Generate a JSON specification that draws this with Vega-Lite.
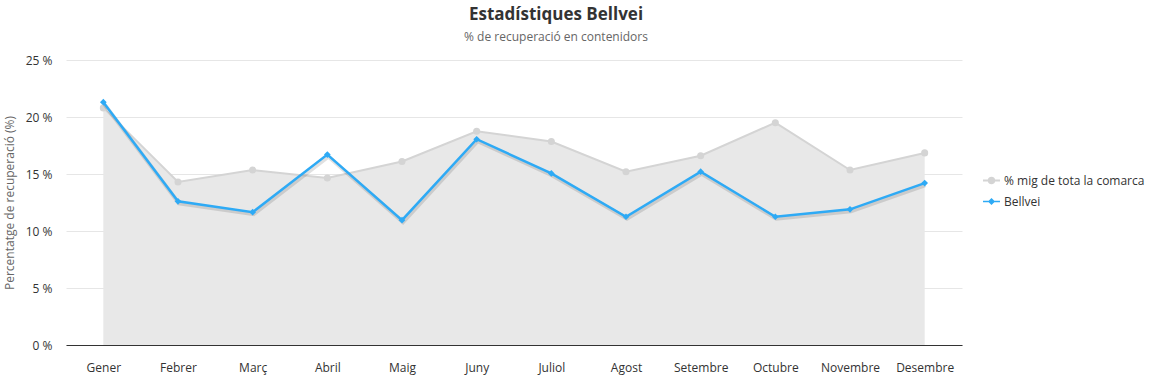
{
  "$schema": "https://vega.github.io/schema/vega-lite/v6.json",
  "width": 896,
  "height": 285,
  "autosize": {"type": "none"},
  "padding": {"left": 66, "top": 60, "right": 193, "bottom": 31},
  "background": "white",
  "config": {
    "font": "Open Sans",
    "view": {"stroke": null},
    "axis": {"labelFont": "Open Sans", "titleFont": "Open Sans"}
  },
  "title": {
    "text": "Estadístiques Bellvei",
    "subtitle": "% de recuperació en contenidors",
    "anchor": "middle",
    "frame": "group",
    "dx": 42,
    "offset": 10,
    "fontSize": 17,
    "fontWeight": "bold",
    "color": "#333333",
    "subtitleFontSize": 12,
    "subtitleColor": "#666666",
    "subtitlePadding": 8
  },
  "data": {
    "values": [
      {"mes": "Gener", "serie": "% mig de tota la comarca", "v": 20.8},
      {"mes": "Febrer", "serie": "% mig de tota la comarca", "v": 14.3},
      {"mes": "Març", "serie": "% mig de tota la comarca", "v": 15.35},
      {"mes": "Abril", "serie": "% mig de tota la comarca", "v": 14.65},
      {"mes": "Maig", "serie": "% mig de tota la comarca", "v": 16.1},
      {"mes": "Juny", "serie": "% mig de tota la comarca", "v": 18.75},
      {"mes": "Juliol", "serie": "% mig de tota la comarca", "v": 17.85},
      {"mes": "Agost", "serie": "% mig de tota la comarca", "v": 15.2},
      {"mes": "Setembre", "serie": "% mig de tota la comarca", "v": 16.6},
      {"mes": "Octubre", "serie": "% mig de tota la comarca", "v": 19.5},
      {"mes": "Novembre", "serie": "% mig de tota la comarca", "v": 15.35},
      {"mes": "Desembre", "serie": "% mig de tota la comarca", "v": 16.85},
      {"mes": "Gener", "serie": "Bellvei", "v": 21.3},
      {"mes": "Febrer", "serie": "Bellvei", "v": 12.6},
      {"mes": "Març", "serie": "Bellvei", "v": 11.65},
      {"mes": "Abril", "serie": "Bellvei", "v": 16.7},
      {"mes": "Maig", "serie": "Bellvei", "v": 10.95},
      {"mes": "Juny", "serie": "Bellvei", "v": 18.05},
      {"mes": "Juliol", "serie": "Bellvei", "v": 15.05},
      {"mes": "Agost", "serie": "Bellvei", "v": 11.25},
      {"mes": "Setembre", "serie": "Bellvei", "v": 15.2},
      {"mes": "Octubre", "serie": "Bellvei", "v": 11.25},
      {"mes": "Novembre", "serie": "Bellvei", "v": 11.9},
      {"mes": "Desembre", "serie": "Bellvei", "v": 14.2}
    ]
  },
  "encoding": {
    "x": {
      "field": "mes",
      "type": "ordinal",
      "sort": null,
      "scale": {"type": "point", "padding": 0.5},
      "axis": {
        "title": null,
        "labelAngle": 0,
        "ticks": false,
        "labelPadding": 17,
        "labelFontSize": 12,
        "labelColor": "#333333",
        "domainColor": "#333333",
        "domainWidth": 1,
        "grid": false
      }
    },
    "y": {
      "field": "v",
      "type": "quantitative",
      "scale": {"domain": [0, 25], "nice": false},
      "axis": {
        "title": "Percentatge de recuperació (%)",
        "titleFontSize": 12,
        "titleFontWeight": "normal",
        "titleColor": "#666666",
        "titlePadding": 9,
        "values": [0, 5, 10, 15, 20, 25],
        "labelExpr": "datum.value + ' %'",
        "labelFontSize": 12,
        "labelColor": "#333333",
        "labelPadding": 14,
        "ticks": false,
        "domain": false,
        "gridColor": "#e6e6e6",
        "gridWidth": 1
      }
    }
  },
  "layer": [
    {
      "transform": [{"filter": "datum.serie === '% mig de tota la comarca'"}],
      "mark": {"type": "area", "color": "#e8e8e8", "opacity": 1}
    },
    {
      "transform": [{"filter": "datum.serie === '% mig de tota la comarca'"}],
      "mark": {"type": "line", "color": "#d4d4d4", "strokeWidth": 2}
    },
    {
      "transform": [{"filter": "datum.serie === '% mig de tota la comarca'"}],
      "mark": {"type": "point", "shape": "circle", "filled": true, "color": "#d4d4d4", "size": 50, "opacity": 1}
    },
    {
      "transform": [{"filter": "datum.serie === 'Bellvei'"}],
      "mark": {"type": "line", "color": "#000000", "strokeWidth": 4, "opacity": 0.12, "yOffset": 2, "xOffset": 1}
    },
    {
      "transform": [{"filter": "datum.serie === 'Bellvei'"}],
      "mark": {"type": "line", "color": "#2eaaf5", "strokeWidth": 2.5}
    },
    {
      "transform": [{"filter": "datum.serie === 'Bellvei'"}],
      "mark": {"type": "point", "shape": "diamond", "filled": true, "color": "#2eaaf5", "size": 45, "opacity": 1}
    },
    {
      "transform": [{"filter": "datum.mes === 'Gener'"}],
      "mark": {"type": "point", "filled": true, "opacity": 0},
      "encoding": {
        "color": {
          "field": "serie",
          "type": "nominal",
          "scale": {"domain": ["% mig de tota la comarca", "Bellvei"], "range": ["#d4d4d4", "#2eaaf5"]},
          "legend": {
            "title": null,
            "orient": "none",
            "legendX": 917,
            "legendY": 112,
            "labelFontSize": 12,
            "labelColor": "#333333",
            "symbolOpacity": 1,
            "symbolSize": 289,
            "symbolStrokeWidth": 0,
            "rowPadding": 6,
            "labelOffset": 4
          }
        },
        "shape": {
          "field": "serie",
          "type": "nominal",
          "scale": {
            "domain": ["% mig de tota la comarca", "Bellvei"],
            "range": [
              "M-1,-0.12H1V0.12H-1Z M-0.45,0A0.45,0.45 0 1,1 0.45,0A0.45,0.45 0 1,1 -0.45,0Z",
              "M-1,-0.1H1V0.1H-1Z M0,-0.42L0.42,0L0,0.42L-0.42,0Z"
            ]
          },
          "legend": null
        }
      }
    }
  ]
}
